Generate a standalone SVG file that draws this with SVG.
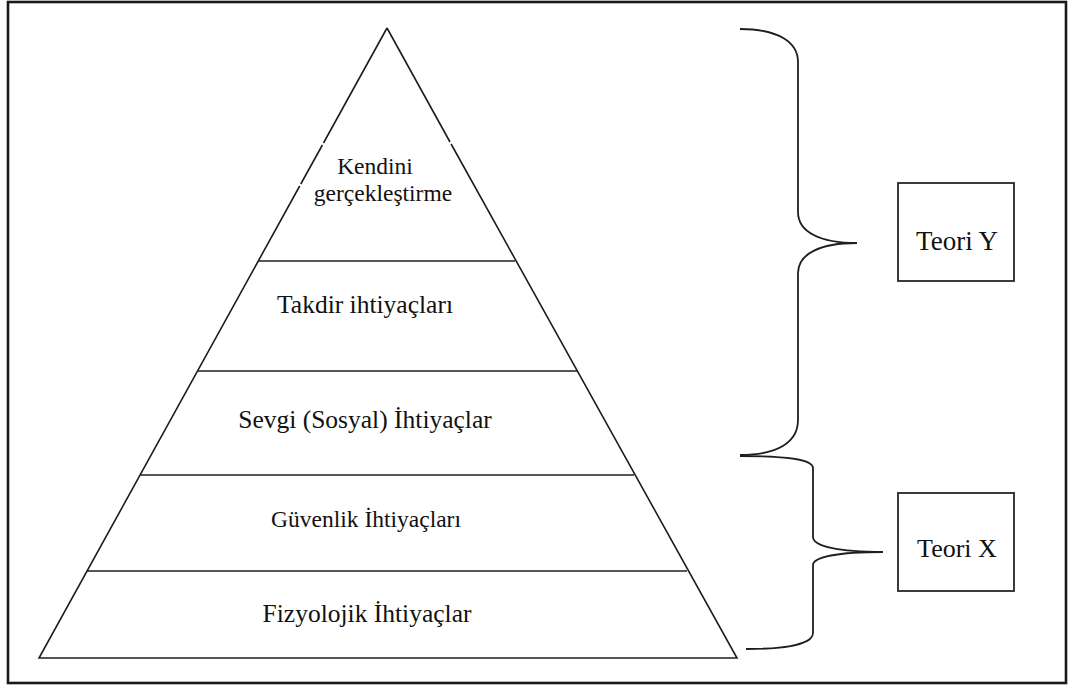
<svg xmlns="http://www.w3.org/2000/svg" width="1068" height="687" viewBox="0 0 1068 687">
  <style>
    .frame { fill: none; stroke: #1a1a1a; stroke-width: 2.6; }
    .edge { fill: none; stroke: #1e1e1e; stroke-width: 1.6; stroke-linecap: butt; }
    .brace { fill: none; stroke: #1e1e1e; stroke-width: 1.8; }
    .box { fill: #ffffff; stroke: #262626; stroke-width: 1.8; }
    .lbl { font-family: "Liberation Serif", "Times New Roman", serif; font-size: 25.5px; fill: #111111; text-anchor: middle; }
    .small { font-size: 23.5px; }
  </style>
  <rect width="1068" height="687" fill="#ffffff"/>
  <rect class="frame" x="8" y="2" width="1058" height="681"/>

  <!-- pyramid outline and level dividers -->
  <g id="pyramid">
    <path class="edge" d="M387,28 L323.5,143 M322.4,145 L300.8,184 M299.7,186 L39,658 L737,658 L451.1,144 M450,142 L387,28"/>
    <line class="edge" x1="259" y1="261" x2="515" y2="261"/>
    <line class="edge" x1="198" y1="371" x2="577" y2="371"/>
    <line class="edge" x1="140" y1="475" x2="634" y2="475"/>
    <line class="edge" x1="87" y1="571" x2="687" y2="571"/>
  </g>

  <g id="level-self">
    <text class="lbl small" x="375" y="174">Kendini</text>
    <text class="lbl small" x="383" y="201">gerçekleştirme</text>
  </g>
  <g id="level-esteem">
    <text class="lbl" x="365" y="313">Takdir ihtiyaçları</text>
  </g>
  <g id="level-social">
    <text class="lbl" x="365" y="428">Sevgi (Sosyal) İhtiyaçlar</text>
  </g>
  <g id="level-safety">
    <text class="lbl" x="366" y="527" style="font-size:23.5px">Güvenlik İhtiyaçları</text>
  </g>
  <g id="level-physio">
    <text class="lbl" x="367" y="622">Fizyolojik İhtiyaçlar</text>
  </g>

  <!-- braces grouping the levels -->
  <g id="connectors">
    <path class="brace" d="M740,29 C778,29 798,42 798,62 L798,212 C798,232 820,243 857,243 C820,243 798,254 798,273 L798,420 C798,442 778,455 740,455"/>
    <path class="brace" d="M740,456 C785,456 813,459 813,468 L813,537 C813,546 838,552 883,552 C838,552 813,557 813,565 L813,633 C813,643 790,649 746,649"/>
  </g>

  <g id="theory-y">
    <rect class="box" x="898" y="183" width="116" height="98"/>
    <text class="lbl" x="957" y="250" style="font-size:27px">Teori Y</text>
  </g>
  <g id="theory-x">
    <rect class="box" x="898" y="493" width="116" height="98"/>
    <text class="lbl" x="957" y="557" style="font-size:26px">Teori X</text>
  </g>
</svg>
